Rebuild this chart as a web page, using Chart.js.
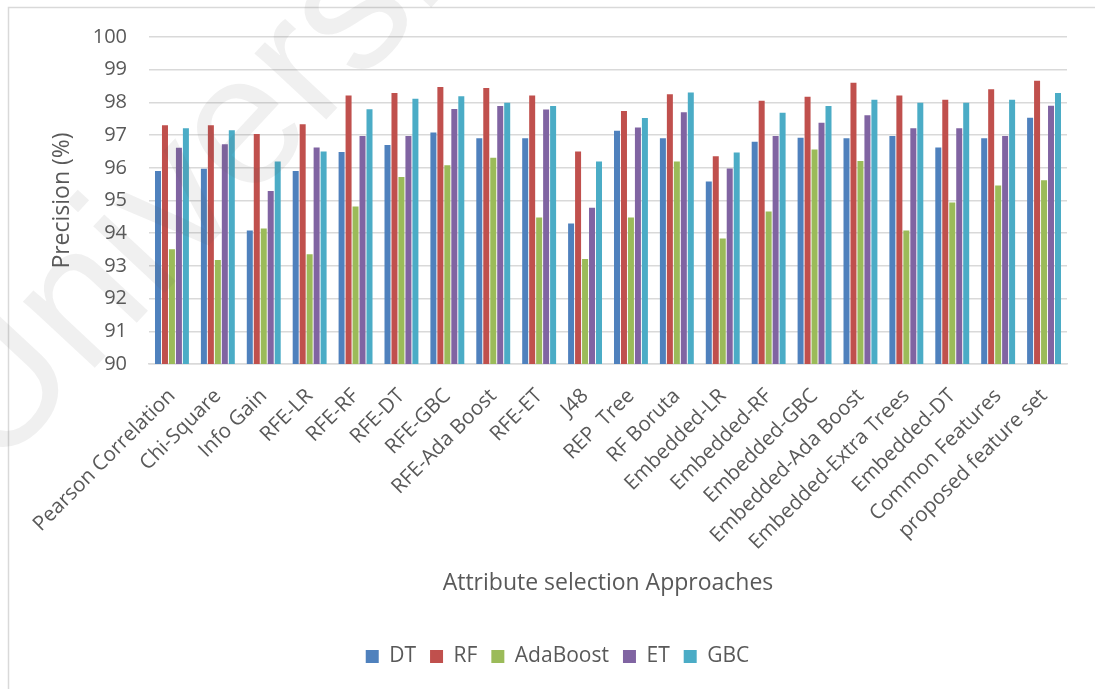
<!DOCTYPE html>
<html>
<head>
<meta charset="utf-8">
<script src="https://cdn.jsdelivr.net/npm/chart.js@4/dist/chart.umd.min.js"></script>
<style>
  html, body { margin: 0; padding: 0; background: #ffffff; }
  #wrap { width: 1095px; height: 689px; position: relative; }
</style>
</head>
<body>
<div id="wrap"><canvas id="chart" width="1095" height="689"></canvas></div>
<script>
// Attribute selection approaches (x categories)
const categories = [
  'Pearson Correlation', 'Chi-Square', 'Info Gain', 'RFE-LR', 'RFE-RF',
  'RFE-DT', 'RFE-GBC', 'RFE-Ada Boost', 'RFE-ET', 'J48',
  'REP  Tree', 'RF Boruta', 'Embedded-LR', 'Embedded-RF', 'Embedded-GBC',
  'Embedded-Ada Boost', 'Embedded-Extra Trees', 'Embedded-DT', 'Common Features', 'proposed feature set'
];

// Precision (%) per classifier
const dtValues = [95.90, 95.97, 94.08, 95.90, 96.48, 96.70, 97.08, 96.90, 96.90, 94.30,
                  97.13, 96.90, 95.58, 96.80, 96.92, 96.90, 96.97, 96.62, 96.90, 97.53];
const rfValues = [97.30, 97.30, 97.03, 97.33, 98.21, 98.29, 98.47, 98.44, 98.21, 96.50,
                  97.74, 98.25, 96.35, 98.05, 98.17, 98.60, 98.21, 98.08, 98.40, 98.66];
const adaValues = [93.51, 93.18, 94.14, 93.36, 94.82, 95.72, 96.08, 96.31, 94.48, 93.21,
                   94.48, 96.19, 93.84, 94.66, 96.56, 96.21, 94.08, 94.94, 95.46, 95.62];
const etValues = [96.61, 96.72, 95.29, 96.62, 96.97, 96.97, 97.80, 97.89, 97.78, 94.78,
                  97.23, 97.70, 95.98, 96.97, 97.38, 97.61, 97.21, 97.21, 96.97, 97.90];
const gbcValues = [97.21, 97.15, 96.19, 96.50, 97.79, 98.11, 98.19, 97.99, 97.89, 96.19,
                   97.52, 98.30, 96.47, 97.68, 97.89, 98.08, 97.99, 97.99, 98.08, 98.29];

const seriesNames = ['DT', 'RF', 'AdaBoost', 'ET', 'GBC'];
const seriesColors = ['#4F81BD', '#C0504D', '#9BBB59', '#8064A2', '#4BACC6'];
const seriesValues = [dtValues, rfValues, adaValues, etValues, gbcValues];

// y axis range and step
const yMin = 90, yMax = 100, yStep = 1;

const textColor = '#595959';
const fontFamily = '"Open Sans", "Liberation Sans", sans-serif';
const PLOT_BOTTOM = 364;
const BOTTOM_PAD = 12;
const LEGEND_SHIFT = 24;

// White page with a thin light frame
const framePlugin = {
  id: 'frame',
  beforeDraw(chart) {
    const ctx = chart.ctx;
    ctx.save();
    ctx.fillStyle = '#ffffff';
    ctx.fillRect(0, 0, chart.width, chart.height);
    ctx.strokeStyle = '#d9d9d9';
    ctx.lineWidth = 1.5;
    ctx.strokeRect(8.5, 7.5, chart.width + 50, chart.height + 50);
    ctx.restore();
  }
};

// Nudge the legend row a little to the right
const legendShiftPlugin = {
  id: 'legendShift',
  afterLayout(chart) {
    if (chart.legend) {
      chart.legend.left += LEGEND_SHIFT;
      chart.legend.right += LEGEND_SHIFT;
    }
  }
};

// Faint diagonal watermark lettering
const watermarkPlugin = {
  id: 'watermark',
  afterDraw(chart) {
    const ctx = chart.ctx;
    ctx.save();
    ctx.font = '185px "Liberation Sans", sans-serif';
    ctx.fillStyle = 'rgba(90, 90, 90, 0.09)';
    ctx.translate(-5, 475);
    ctx.rotate(-47 * Math.PI / 180);
    ctx.textBaseline = 'alphabetic';
    ctx.fillText('Universiti', 0, 0);
    ctx.restore();
  }
};

new Chart(document.getElementById('chart'), {
  type: 'bar',
  data: {
    labels: categories,
    datasets: seriesNames.map((name, i) => ({
      label: name,
      data: seriesValues[i],
      backgroundColor: seriesColors[i],
      borderWidth: 0,
      categoryPercentage: 0.76,
      barPercentage: 0.86
    }))
  },
  options: {
    responsive: false,
    animation: false,
    devicePixelRatio: 1,
    layout: { padding: { top: 37, left: 0, right: 28, bottom: BOTTOM_PAD } },
    plugins: {
      legend: {
        position: 'bottom',
        labels: {
          color: textColor,
          font: { family: fontFamily, size: 21 },
          boxWidth: 13,
          boxHeight: 13,
          padding: 14
        }
      },
      tooltip: { enabled: false }
    },
    scales: {
      y: {
        min: yMin,
        max: yMax,
        ticks: {
          stepSize: yStep,
          color: textColor,
          font: { family: fontFamily, size: 20 },
          padding: 22
        },
        grid: { color: '#d9d9d9', lineWidth: 1.5, drawTicks: false },
        border: { display: false },
        title: {
          display: true,
          text: 'Precision (%)',
          color: textColor,
          font: { family: fontFamily, size: 23 },
          padding: { top: 49, bottom: 0 }
        },
        afterFit(scale) { scale.width = 149; }
      },
      x: {
        ticks: {
          color: textColor,
          font: { family: fontFamily, size: 20.5 },
          minRotation: 45,
          maxRotation: 45,
          autoSkip: false,
          padding: 12
        },
        grid: { display: false },
        border: { display: true, color: '#d9d9d9', width: 1.5 },
        title: {
          display: true,
          text: 'Attribute selection Approaches',
          color: textColor,
          font: { family: fontFamily, size: 23 },
          padding: { top: 0, bottom: 35 }
        },
        afterFit(scale) {
          const legendH = scale.chart.legend ? scale.chart.legend.height : 50;
          scale.height = scale.chart.height - PLOT_BOTTOM - legendH - BOTTOM_PAD;
        }
      }
    }
  },
  plugins: [framePlugin, legendShiftPlugin, watermarkPlugin]
});
</script>
</body>
</html>
